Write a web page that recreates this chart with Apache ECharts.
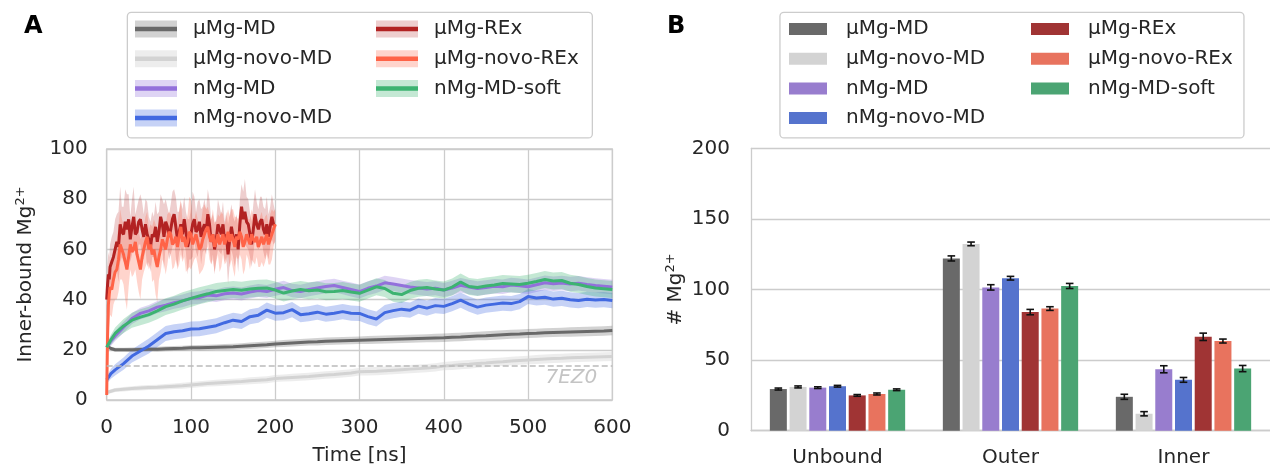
<!DOCTYPE html>
<html>
<head>
<meta charset="utf-8">
<script src="https://cdn.jsdelivr.net/npm/echarts@6/dist/echarts.min.js"></script>
<style>
html, body { margin: 0; padding: 0; background: #fff; }
#chart { width: 1270px; height: 469px; }
</style>
</head>
<body>
<div id="chart"></div>
<script>
// ---- data ----
const runNames = ['μMg-MD', 'μMg-novo-MD', 'nMg-MD', 'nMg-novo-MD', 'μMg-REx', 'μMg-novo-REx', 'nMg-MD-soft'];

// panel A: time series (ns)
const tMD = [0, 5,
  10, 20, 30, 40, 50, 60, 70, 80, 90, 100,
  110, 120, 130, 140, 150, 160, 170, 180, 190, 200,
  210, 220, 230, 240, 250, 260, 270, 280, 290, 300,
  310, 320, 330, 340, 350, 360, 370, 380, 390, 400,
  410, 420, 430, 440, 450, 460, 470, 480, 490, 500,
  510, 520, 530, 540, 550, 560, 570, 580, 590, 600];
const tREx = [0, 1, 2, 3, 4,
  6, 8, 10, 12, 14, 16, 18, 20, 22, 24,
  26, 28, 30, 32, 34, 36, 38, 40, 42, 44,
  46, 48, 50, 52, 54, 56, 58, 60, 62, 64,
  66, 68, 70, 72, 74, 76, 78, 80, 82, 84,
  86, 88, 90, 92, 94, 96, 98, 100, 102, 104,
  106, 108, 110, 112, 114, 116, 118, 120, 122, 124,
  126, 128, 130, 132, 134, 136, 138, 140, 142, 144,
  146, 148, 150, 152, 154, 156, 158, 160, 162, 164,
  166, 168, 170, 172, 174, 176, 178, 180, 182, 184,
  186, 188, 190, 192, 194, 196, 198, 200];

const mdMean = [21.5, 20.5,
  20, 20, 20, 20.1, 20.2, 20.2, 20.4, 20.5, 20.6, 20.8,
  20.8, 20.9, 21, 21.1, 21.2, 21.4, 21.6, 21.8, 22, 22.3,
  22.5, 22.7, 22.9, 23.1, 23.2, 23.4, 23.5, 23.6, 23.7, 23.8,
  23.9, 24, 24.1, 24.2, 24.3, 24.4, 24.5, 24.6, 24.7, 24.8,
  25, 25.1, 25.3, 25.5, 25.6, 25.8, 26, 26.2, 26.3, 26.5,
  26.6, 26.8, 26.9, 27, 27.1, 27.2, 27.3, 27.4, 27.5, 27.7];
const mdSpread = [0.8, 0.8,
  0.8, 0.8, 0.9, 0.9, 0.9, 1, 1, 1, 1, 1,
  1.1, 1.1, 1.1, 1.2, 1.2, 1.2, 1.3, 1.3, 1.3, 1.3,
  1.4, 1.4, 1.4, 1.4, 1.5, 1.5, 1.5, 1.5, 1.5, 1.5,
  1.6, 1.6, 1.6, 1.6, 1.6, 1.6, 1.6, 1.6, 1.7, 1.7,
  1.7, 1.7, 1.7, 1.7, 1.8, 1.8, 1.8, 1.8, 1.8, 1.8,
  1.8, 1.8, 1.8, 1.8, 1.9, 1.9, 1.9, 1.9, 1.9, 1.9];
const novoMdMean = [3, 3.5,
  4, 4.3, 4.6, 4.8, 5, 5.1, 5.3, 5.5, 5.7, 6,
  6.3, 6.6, 6.8, 7, 7.2, 7.4, 7.7, 7.9, 8.1, 8.6,
  8.8, 9, 9.2, 9.4, 9.7, 10, 10.2, 10.5, 10.8, 11.3,
  11.4, 11.5, 11.7, 11.9, 12.1, 12.3, 12.5, 12.7, 13, 13.5,
  13.7, 14, 14.2, 14.5, 14.7, 15, 15.2, 15.5, 15.7, 15.9,
  16.1, 16.3, 16.5, 16.6, 16.8, 16.9, 17, 17.1, 17.2, 17.3];
const novoMdSpread = [0.8, 0.8,
  0.8, 0.9, 0.9, 1, 1, 1, 1.1, 1.1, 1.2, 1.2,
  1.2, 1.2, 1.3, 1.3, 1.3, 1.3, 1.4, 1.4, 1.4, 1.4,
  1.4, 1.5, 1.5, 1.5, 1.5, 1.5, 1.5, 1.5, 1.5, 1.5,
  1.6, 1.6, 1.6, 1.6, 1.6, 1.6, 1.6, 1.6, 1.6, 1.6,
  1.7, 1.7, 1.7, 1.7, 1.7, 1.7, 1.7, 1.7, 1.7, 1.7,
  1.8, 1.8, 1.8, 1.8, 1.8, 1.8, 1.8, 1.8, 1.8, 1.8];
const nMdMean = [21, 23.5,
  25.5, 29, 32.5, 34.5, 35.5, 37, 37.8, 38.8, 39.5, 40.5,
  40.8, 41.8, 41.5, 42.3, 42.6, 42.2, 43, 43.6, 43.2, 44.1,
  44.8, 43.6, 43.2, 44, 44.6, 45.2, 45.6, 44.8, 44, 43.2,
  44.5, 45.4, 46.7, 46.2, 45.6, 45, 44.6, 44.2, 44.5, 43.8,
  44.6, 45.7, 45, 44.4, 44.8, 45.3, 45.1, 45.8, 45.5, 45.1,
  45.9, 46.7, 46.3, 46.6, 46.2, 46.5, 46, 45.6, 45.3, 45];
const nMdSpread = [1.5, 2,
  2, 2.2, 2.2, 2.3, 2.3, 2.4, 2.4, 2.4, 2.5, 2.5,
  2.5, 2.5, 2.5, 2.6, 2.6, 2.6, 2.6, 2.6, 2.6, 2.6,
  2.7, 2.7, 2.7, 2.7, 2.7, 2.7, 2.7, 2.7, 2.8, 2.8,
  2.8, 2.8, 2.8, 2.8, 2.8, 2.8, 2.8, 2.8, 2.8, 2.8,
  2.9, 2.9, 2.9, 2.9, 2.9, 2.9, 2.9, 2.9, 2.9, 2.9,
  2.9, 2.9, 2.9, 2.9, 2.9, 2.9, 2.9, 2.9, 2.9, 2.9];
const nNovoMean = [8, 10.5,
  12, 14.5, 17.5, 19.5, 21.5, 24, 26.5, 27.2, 27.6, 28.3,
  28.4, 29, 29.6, 30.8, 31.8, 31.3, 33.2, 33.8, 35.8, 34.6,
  34.8, 36, 34, 34.4, 35, 34.2, 34.6, 35.2, 34.6, 34.5,
  33.2, 32.3, 34.8, 35.6, 36.2, 35.8, 37.4, 36.6, 37.6, 37.3,
  38.4, 39.8, 38.2, 37, 37.8, 38.2, 38.6, 38.4, 39.2, 41.2,
  40.6, 40.9, 40.2, 40.5, 39.9, 39.6, 40.1, 39.8, 40, 39.6];
const nNovoSpread = [1.5, 2,
  2.2, 2.4, 2.6, 2.8, 3, 3, 3, 3, 3, 3,
  3, 3, 3, 3, 3, 3, 3, 3, 3, 3,
  3, 3, 3, 3, 3, 3, 3, 3, 3, 3,
  3, 3, 3, 3, 3, 3, 3, 3, 3, 3,
  3, 3, 3, 3, 3, 3, 3, 3, 3, 3,
  3, 3, 3, 3, 3, 3, 3, 3, 3, 3];
const softMean = [21, 24,
  26.5, 29.5, 31.8, 33, 34, 35.5, 37.2, 38.2, 39.5, 40.5,
  41.5, 42.3, 43.2, 43.6, 44, 43.7, 44.2, 44.5, 44.6, 43.8,
  42.6, 43.4, 44, 43.5, 43.8, 43.1, 43.2, 43.6, 43, 42.5,
  43.8, 45.1, 44.4, 42.5, 42, 43.6, 44.5, 44.8, 44.2, 43.8,
  45, 47, 45.2, 44.8, 45.4, 45.8, 46.4, 46.2, 46, 46.5,
  47.2, 48, 47.4, 47.6, 46.5, 46, 45.2, 44.6, 44.3, 44];
const softSpread = [1.5, 2,
  2.4, 2.8, 3, 3.2, 3.2, 3.3, 3.3, 3.3, 3.4, 3.4,
  3.4, 3.4, 3.4, 3.4, 3.4, 3.4, 3.4, 3.4, 3.4, 3.4,
  3.4, 3.4, 3.4, 3.4, 3.4, 3.4, 3.4, 3.4, 3.4, 3.4,
  3.4, 3.4, 3.4, 3.4, 3.4, 3.4, 3.4, 3.4, 3.4, 3.4,
  3.4, 3.4, 3.4, 3.4, 3.4, 3.4, 3.4, 3.4, 3.4, 3.4,
  3.4, 3.4, 3.4, 3.4, 3.4, 3.4, 3.4, 3.4, 3.4, 3.4];
const rexMean = [40, 46, 50, 48, 53,
  55, 57, 60, 63, 61, 70, 67, 66, 71, 68,
  72, 64, 69, 73, 66, 67, 71, 72, 68, 65,
  70, 66, 64, 61, 66, 65, 69, 63, 67, 73,
  70, 65, 71, 69, 65, 68, 72, 74, 69, 64,
  67, 70, 66, 72, 67, 61, 64, 66, 70, 72,
  67, 68, 71, 65, 68, 70, 67, 74, 70, 63,
  66, 60, 64, 70, 68, 66, 70, 63, 66, 58,
  64, 69, 65, 62, 66, 60, 70, 77, 72, 75,
  71, 70, 66, 62, 68, 74, 70, 68, 71, 72,
  68, 66, 70, 65, 69, 73, 70, 69];
const rexSpread = [6, 8, 9, 9, 9,
  10, 10, 12, 11, 14, 15, 10, 11, 13, 14,
  10, 9, 11, 12, 8, 10, 9, 10, 11, 9,
  10, 13, 9, 10, 9, 8, 10, 11, 8, 9,
  10, 13, 9, 8, 9, 10, 11, 10, 12, 11,
  8, 9, 10, 9, 8, 11, 8, 10, 13, 9,
  8, 11, 9, 11, 9, 10, 9, 10, 10, 9,
  8, 10, 8, 10, 9, 8, 9, 8, 9, 12,
  10, 9, 8, 9, 8, 9, 10, 9, 11, 13,
  10, 10, 9, 9, 10, 10, 9, 8, 10, 9,
  9, 10, 11, 9, 8, 9, 8, 6];
const novoRexMean = [2, 25, 38, 42, 45,
  44, 48, 51, 52, 56, 62, 60, 58, 55, 52,
  57, 62, 59, 60, 63, 58, 55, 52, 57, 60,
  63, 65, 60, 62, 58, 60, 56, 53, 57, 60,
  64, 62, 60, 64, 67, 66, 62, 63, 65, 61,
  65, 69, 63, 65, 61, 63, 67, 66, 62, 64,
  66, 63, 60, 61, 64, 66, 68, 69, 65, 63,
  66, 61, 63, 66, 62, 64, 66, 62, 64, 67,
  63, 66, 64, 61, 65, 64, 67, 65, 61, 63,
  66, 64, 62, 66, 64, 63, 65, 61, 63, 65,
  62, 64, 66, 62, 64, 66, 68, 70];
const novoRexSpread = [4, 12, 12, 12, 11,
  11, 10, 11, 12, 13, 14, 12, 12, 15, 16,
  12, 10, 10, 10, 11, 11, 12, 12, 9, 9,
  10, 10, 8, 8, 11, 12, 14, 14, 9, 9,
  8, 8, 10, 10, 8, 8, 10, 10, 9, 9,
  11, 11, 8, 8, 10, 11, 14, 14, 8, 8,
  9, 9, 10, 10, 12, 12, 8, 8, 9, 9,
  10, 10, 8, 8, 11, 11, 8, 8, 9, 9,
  10, 10, 12, 12, 8, 8, 9, 9, 11, 11,
  8, 8, 10, 10, 9, 9, 8, 8, 10, 10,
  9, 9, 8, 8, 10, 10, 7, 6];
const refLevel = 13.7; // 7EZ0

// panel B: bars
const categories = ['Unbound', 'Outer', 'Inner'];
const unboundMean = [29.5, 31, 30.5, 31.5, 25, 26, 29];
const outerMean = [122, 132.3, 101.5, 108, 84, 86.5, 102.5];
const innerMean = [24, 12, 43.5, 36, 66.5, 63.5, 44];
const unboundErr = [0.7, 0.7, 0.6, 0.6, 0.6, 0.7, 0.6];
const outerErr = [1.8, 1.3, 1.9, 1.3, 1.9, 1.3, 1.8];
const innerErr = [1.8, 1.5, 2.5, 1.7, 2.6, 1.4, 2.2];

// ---- styling ----
const lineColors = ['#696969', '#d3d3d3', '#9370db', '#4169e1', '#b22222', '#ff6347', '#3cb371'];
const bandColors = ['rgba(105,105,105,0.3)', 'rgba(211,211,211,0.4)', 'rgba(147,112,219,0.3)', 'rgba(65,105,225,0.3)', 'rgba(178,34,34,0.22)', 'rgba(255,99,71,0.28)', 'rgba(60,179,113,0.3)'];
const barColors = ['#696969', '#d3d3d3', '#987dce', '#5573cd', '#a03434', '#e8735e', '#4ba473'];
const font = 'DejaVu Sans';
const textColor = '#262626';
const gridColor = '#cccccc';
const barWidth = 17;
const barPitch = barWidth * 1.16;

const runs = [
  { t: tMD, mean: mdMean, spread: mdSpread },
  { t: tMD, mean: novoMdMean, spread: novoMdSpread },
  { t: tMD, mean: nMdMean, spread: nMdSpread },
  { t: tMD, mean: nNovoMean, spread: nNovoSpread },
  { t: tREx, mean: rexMean, spread: rexSpread },
  { t: tREx, mean: novoRexMean, spread: novoRexSpread },
  { t: tMD, mean: softMean, spread: softSpread }
];
const barMeans = [unboundMean, outerMean, innerMean];
const barErrs = [unboundErr, outerErr, innerErr];

const bandSeries = (i) => {
  const r = runs[i];
  const pts = r.t.map((t, k) => [t, r.mean[k] - r.spread[k], r.mean[k] + r.spread[k]]);
  return {
    type: 'custom',
    name: runNames[i] + ' band',
    xAxisIndex: 0,
    yAxisIndex: 0,
    silent: true,
    data: pts,
    encode: { x: 0, y: [1, 2] },
    renderItem(params, api) {
      if (params.dataIndex !== 0) return null;
      const upper = pts.map(p => api.coord([p[0], p[2]]));
      const lower = pts.map(p => api.coord([p[0], p[1]])).reverse();
      return {
        type: 'polygon',
        shape: { points: upper.concat(lower) },
        style: { fill: bandColors[i] }
      };
    }
  };
};

const lineSeries = (i) => {
  const r = runs[i];
  const s = {
    type: 'line',
    name: runNames[i],
    xAxisIndex: 0,
    yAxisIndex: 0,
    silent: true,
    symbol: 'none',
    data: r.t.map((t, k) => [t, r.mean[k]]),
    lineStyle: { color: lineColors[i], width: 3 },
    itemStyle: { color: lineColors[i] }
  };
  if (i === 1) {
    s.markLine = {
      silent: true,
      symbol: ['none', 'none'],
      lineStyle: { type: [6, 3], color: '#bbbbbb', width: 1.5 },
      label: {
        show: true,
        formatter: '7EZ0',
        position: 'insideEndBottom',
        distance: [15, 2],
        fontFamily: font,
        fontStyle: 'italic',
        fontSize: 20,
        color: '#c4c4c4'
      },
      data: [{ yAxis: refLevel }]
    };
  }
  return s;
};

const barSeries = (i) => ({
  type: 'bar',
  name: runNames[i],
  xAxisIndex: 1,
  yAxisIndex: 1,
  silent: true,
  barWidth: barWidth,
  barGap: '16%',
  data: barMeans.map(m => m[i]),
  itemStyle: { color: barColors[i] }
});

const errSeries = (i) => ({
  type: 'custom',
  xAxisIndex: 1,
  yAxisIndex: 1,
  silent: true,
  z: 5,
  data: categories.map((c, j) => [j, barMeans[j][i], barErrs[j][i]]),
  renderItem(params, api) {
    const j = api.value(0), v = api.value(1), e = api.value(2);
    const x = api.coord([j, v])[0] + (i - 3) * barPitch;
    const top = api.coord([j, v + e])[1];
    const bot = api.coord([j, v - e])[1];
    const st = { stroke: '#111111', lineWidth: 1.6 };
    return {
      type: 'group',
      children: [
        { type: 'line', shape: { x1: x, y1: top, x2: x, y2: bot }, style: st },
        { type: 'line', shape: { x1: x - 3.8, y1: top, x2: x + 3.8, y2: top }, style: st },
        { type: 'line', shape: { x1: x - 3.8, y1: bot, x2: x + 3.8, y2: bot }, style: st }
      ]
    };
  }
});

const series = [];
runs.forEach((r, i) => {
  series.push(bandSeries(i));
  series.push(lineSeries(i));
});
runNames.forEach((n, i) => series.push(barSeries(i)));
runNames.forEach((n, i) => series.push(errSeries(i)));

const legendText = { fontFamily: font, fontSize: 20, lineHeight: 20, color: textColor };
const legendBase = { orient: 'vertical', top: 19, padding: 0, itemGap: 9.7, icon: 'rect', selectedMode: false };
const lineLegend = (idx, left) => Object.assign({}, legendBase, {
  left: left, z: 6, itemWidth: 42, itemHeight: 4.5,
  textStyle: Object.assign({ padding: [0, 0, 0, 11] }, legendText),
  data: idx.map(i => ({ name: runNames[i], itemStyle: { color: lineColors[i], borderWidth: 0 } }))
});
const bandLegend = (idx, left) => Object.assign({}, legendBase, {
  left: left, z: 5, itemWidth: 42, itemHeight: 17,
  formatter: () => ' ',
  textStyle: legendText,
  data: idx.map(i => ({ name: runNames[i] + ' band', itemStyle: { color: bandColors[i], borderWidth: 0 } }))
});
const barLegend = (idx, left) => Object.assign({}, legendBase, {
  left: left, z: 6, itemWidth: 38, itemHeight: 12,
  textStyle: Object.assign({ padding: [0, 0, 0, 14] }, legendText),
  data: idx.map(i => ({ name: runNames[i], itemStyle: { color: barColors[i], borderWidth: 0 } }))
});

const axisText = { fontFamily: font, fontSize: 20, color: textColor };
const supRich = { sup: { fontFamily: font, fontSize: 13, lineHeight: 10, verticalAlign: 'top', color: textColor } };

const option = {
  animation: false,
  textStyle: { fontFamily: font },
  grid: [
    { left: 106.7, top: 149, width: 505.6, height: 251, show: true, borderColor: gridColor, borderWidth: 1.3, outerBoundsMode: 'none' },
    { left: 751, top: 148.3, right: 0, height: 282.4, outerBoundsMode: 'none' }
  ],
  xAxis: [
    {
      type: 'value', gridIndex: 0, min: 0, max: 600, interval: 100,
      axisLine: { show: false }, axisTick: { show: false },
      splitLine: { show: true, lineStyle: { color: gridColor, width: 1.3 } },
      axisLabel: Object.assign({ margin: 18 }, axisText),
      name: 'Time [ns]', nameLocation: 'middle', nameGap: 46,
      nameTextStyle: Object.assign({ lineHeight: 20 }, axisText)
    },
    {
      type: 'category', gridIndex: 1, data: categories,
      axisLine: { show: true, lineStyle: { color: gridColor, width: 1.3 } },
      axisTick: { show: false },
      splitLine: { show: false },
      axisLabel: Object.assign({ margin: 17 }, axisText)
    }
  ],
  yAxis: [
    {
      type: 'value', gridIndex: 0, min: 0, max: 100, interval: 20,
      axisLine: { show: false }, axisTick: { show: false },
      splitLine: { show: true, lineStyle: { color: gridColor, width: 1.3 } },
      axisLabel: Object.assign({ margin: 19 }, axisText),
      name: 'Inner-bound Mg{sup|2+}', nameLocation: 'middle', nameGap: 69,
      nameTextStyle: Object.assign({ lineHeight: 24, rich: supRich }, axisText)
    },
    {
      type: 'value', gridIndex: 1, min: 0, max: 200, interval: 50,
      axisLine: { show: true, lineStyle: { color: gridColor, width: 1.3 } },
      axisTick: { show: false },
      splitLine: { show: true, lineStyle: { color: gridColor, width: 1.3 } },
      axisLabel: Object.assign({ margin: 21 }, axisText),
      name: '# Mg{sup|2+}', nameLocation: 'middle', nameGap: 40,
      nameTextStyle: Object.assign({ lineHeight: 24, rich: supRich }, axisText)
    }
  ],
  legend: [
    bandLegend([0, 1, 2, 3], 135),
    bandLegend([4, 5, 6], 376),
    lineLegend([0, 1, 2, 3], 135),
    lineLegend([4, 5, 6], 376),
    barLegend([0, 1, 2, 3], 789),
    barLegend([4, 5, 6], 1031)
  ],
  graphic: [
    { type: 'rect', left: 126.7, top: 11.7, z: 1, shape: { width: 465, height: 125.6, r: 4 }, style: { fill: 'rgba(255,255,255,0.8)', stroke: gridColor, lineWidth: 1.3 } },
    { type: 'rect', left: 779.3, top: 11.7, z: 1, shape: { width: 464, height: 125.6, r: 4 }, style: { fill: 'rgba(255,255,255,0.8)', stroke: gridColor, lineWidth: 1.3 } },
    { type: 'text', left: 24, top: 15, style: { text: 'A', font: 'bold 24px "DejaVu Sans"', fill: '#000000' } },
    { type: 'text', left: 667, top: 15, style: { text: 'B', font: 'bold 24px "DejaVu Sans"', fill: '#000000' } }
  ],
  series: series
};

const chart = echarts.init(document.getElementById('chart'));
chart.setOption(option);
</script>
</body>
</html>
